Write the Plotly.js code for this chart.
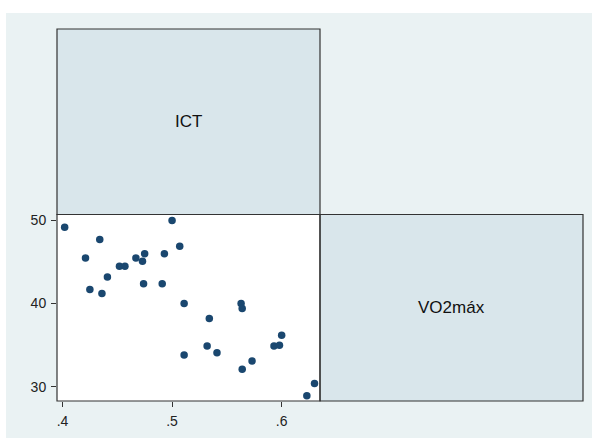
<!DOCTYPE html>
<html>
<head>
<meta charset="utf-8">
<script src="https://cdn.plot.ly/plotly-3.0.1.min.js"></script>
<style>html,body{margin:0;padding:0;background:#fff;}</style>
</head>
<body>
<div id="chart" style="width:592px;height:438px;"></div>
<script>
// ICT (x) vs VO2máx (y)
var ict = [0.402,0.421,0.425,0.434,0.436,0.441,0.452,0.457,0.467,0.473,0.475,0.474,0.491,0.493,0.500,0.507,0.511,0.511,0.532,0.534,0.541,0.563,0.564,0.564,0.573,0.593,0.598,0.600,0.623,0.630];
var vo2 = [49.2,45.5,41.7,47.7,41.2,43.2,44.5,44.5,45.5,45.1,46.0,42.4,42.4,46.0,50.0,46.9,40.0,33.8,34.9,38.2,34.1,40.0,39.4,32.1,33.1,34.9,35.0,36.2,28.9,30.4];
var varNames = ["ICT", "VO2máx"];
var xTicks = [0.4, 0.5, 0.6];
var xTickText = [".4", ".5", ".6"];
var yTicks = [30, 40, 50];
var yTickText = ["30", "40", "50"];

var W = 592, H = 438;
function px(x){ return x / W; }
function py(y){ return 1 - y / H; }

var L = 57, M = 320, R = 583, T = 29, MID = 214.5, B = 401;
var bg = "#eaf2f3", diag = "#d9e6eb", border = "#333333";

var trace = {
  x: ict, y: vo2, type: "scatter", mode: "markers",
  marker: {color: "#1a476f", size: 7.5},
  xaxis: "x", yaxis: "y", hoverinfo: "x+y"
};

var layout = {
  width: W, height: H,
  margin: {l: 0, r: 0, t: 0, b: 0},
  paper_bgcolor: "#ffffff",
  plot_bgcolor: "#ffffff",
  showlegend: false,
  font: {family: "Liberation Sans, Arial, sans-serif", color: "#222222"},
  xaxis: {
    domain: [px(L), px(M)], range: [0.395, 0.635],
    tickvals: xTicks, ticktext: xTickText,
    ticks: "outside", ticklen: 5, tickcolor: border, tickwidth: 1,
    showgrid: false, zeroline: false, showline: false,
    tickfont: {size: 14, color: "#222222"},
    ticklabelstandoff: 2
  },
  yaxis: {
    domain: [py(B), py(MID)], range: [28.28, 50.72],
    tickvals: yTicks, ticktext: yTickText,
    ticks: "outside", ticklen: 5, tickcolor: border, tickwidth: 1,
    showgrid: false, zeroline: false, showline: false,
    tickfont: {size: 14, color: "#222222"},
    ticklabelstandoff: 2
  },
  shapes: [
    {type: "rect", xref: "paper", yref: "paper", x0: px(6), x1: px(592), y0: py(438), y1: py(13),
     fillcolor: bg, line: {width: 0}, layer: "below"},
    {type: "rect", xref: "paper", yref: "paper", x0: px(L), x1: px(M), y0: py(B), y1: py(MID),
     fillcolor: "#ffffff", line: {width: 0}, layer: "below"},
    {type: "rect", xref: "paper", yref: "paper", x0: px(L), x1: px(M), y0: py(MID), y1: py(T),
     fillcolor: diag, line: {color: border, width: 1.2}, layer: "below"},
    {type: "rect", xref: "paper", yref: "paper", x0: px(M), x1: px(R), y0: py(B), y1: py(MID),
     fillcolor: diag, line: {color: border, width: 1.2}, layer: "below"},
    {type: "rect", xref: "paper", yref: "paper", x0: px(L), x1: px(M), y0: py(B), y1: py(MID),
     fillcolor: "rgba(0,0,0,0)", line: {color: border, width: 1.2}, layer: "above"}
  ],
  annotations: [
    {xref: "paper", yref: "paper", x: px((L + M) / 2), y: py((T + MID) / 2), text: varNames[0],
     showarrow: false, font: {size: 17, color: "#111111"}, xanchor: "center", yanchor: "middle"},
    {xref: "paper", yref: "paper", x: px((M + R) / 2), y: py((MID + B) / 2), text: varNames[1],
     showarrow: false, font: {size: 17, color: "#111111"}, xanchor: "center", yanchor: "middle"}
  ]
};

Plotly.newPlot("chart", [trace], layout, {displayModeBar: false, staticPlot: true});
</script>
</body>
</html>
